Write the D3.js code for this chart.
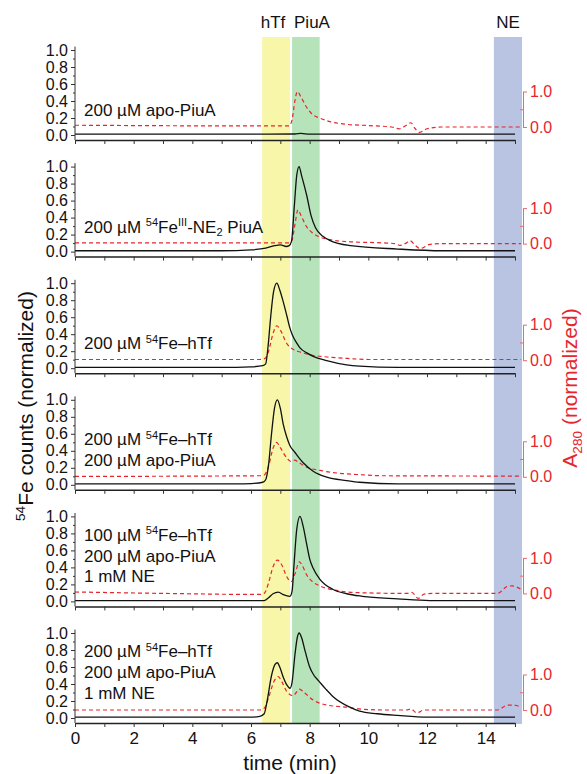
<!DOCTYPE html>
<html><head><meta charset="utf-8">
<script src="https://cdn.jsdelivr.net/npm/d3@7"></script>
<style>
body{margin:0;background:#fff}
text{font-family:Arial,"Liberation Sans",sans-serif}
</style></head>
<body><svg id="c" width="587" height="774"></svg>
<script>
// ---------------- DATA ----------------
const xTicks = [0,1,2,3,4,5,6,7,8,9,10,11,12,13,14,15];
const leftTicks = [0,0.2,0.4,0.6,0.8,1.0];
const rightTicks = [0,1.0];
const bandNames = ["hTf","PiuA","NE"];
const bandStart = [6.38,7.40,14.28];
const bandEnd   = [7.33,8.34,15.24];
const bandColors = ["#f8f6a8","#b6e3ba","#b8c4e2"];

// panel labels: {..} superscript, [..] subscript
const panelLabels = [
  ["200 µM apo-PiuA"],
  ["200 µM {54}Fe{III}-NE[2] PiuA"],
  ["200 µM {54}Fe–hTf"],
  ["200 µM {54}Fe–hTf","200 µM apo-PiuA"],
  ["100 µM {54}Fe–hTf","200 µM apo-PiuA","1 mM NE"],
  ["200 µM {54}Fe–hTf","200 µM apo-PiuA","1 mM NE"]
];

// 54Fe counts (black) [time, value]
const fe1 = [[0,0.01],[6,0.01],[7.5,0.012],[7.7,0.018],[8,0.01],[15,0.01]];
const fe2 = [[0,0.01],[5,0.01],[6,0.02],[6.5,0.04],[6.8,0.07],[7.0,0.08],[7.2,0.06],[7.3,0.07],[7.38,0.12],[7.48,0.55],[7.56,0.9],[7.64,1.0],[7.72,0.9],[7.9,0.66],[8.05,0.42],[8.2,0.28],[8.45,0.18],[8.7,0.13],[9.4,0.07],[11,0.03],[12.5,0.01],[15,0.01]];
const fe3 = [[0,0.01],[5.5,0.01],[6,0.015],[6.4,0.03],[6.5,0.05],[6.58,0.25],[6.67,0.6],[6.77,0.9],[6.88,1.0],[6.98,0.92],[7.1,0.78],[7.22,0.62],[7.32,0.48],[7.41,0.39],[7.55,0.3],[7.67,0.24],[7.9,0.18],[8.12,0.14],[8.58,0.09],[9.26,0.04],[9.7,0.025],[11,0.01],[15,0.01]];
const fe4 = [[0,0.01],[5.5,0.01],[6.02,0.015],[6.4,0.03],[6.5,0.06],[6.6,0.24],[6.7,0.6],[6.8,0.9],[6.9,1.0],[7.0,0.9],[7.1,0.71],[7.22,0.56],[7.33,0.46],[7.5,0.38],[7.65,0.31],[7.78,0.26],[8.12,0.16],[8.58,0.09],[9.26,0.05],[9.7,0.03],[11,0.01],[15,0.01]];
const fe5 = [[0,0.01],[6.45,0.01],[6.59,0.04],[6.75,0.09],[6.93,0.11],[7.1,0.08],[7.33,0.06],[7.4,0.12],[7.47,0.45],[7.56,0.85],[7.67,1.0],[7.78,0.88],[7.9,0.67],[8.0,0.5],[8.12,0.39],[8.35,0.26],[8.8,0.14],[9.26,0.09],[9.8,0.06],[11,0.03],[12.1,0.01],[15,0.01]];
const fe6 = [[0,0.01],[6.0,0.01],[6.3,0.02],[6.45,0.05],[6.55,0.2],[6.7,0.5],[6.82,0.63],[6.9,0.65],[6.98,0.6],[7.1,0.48],[7.22,0.39],[7.33,0.35],[7.4,0.42],[7.5,0.75],[7.58,0.95],[7.64,1.0],[7.72,0.95],[7.85,0.78],[8.0,0.6],[8.15,0.5],[8.3,0.44],[8.55,0.34],[8.8,0.25],[9.35,0.13],[9.7,0.08],[10.3,0.05],[11,0.03],[12,0.01],[15,0.01]];

// A280 (red dashed) [time, value]
const a1 = [[0,0.05],[6,0.03],[7.3,0.03],[7.4,0.2],[7.5,0.75],[7.58,1.0],[7.7,0.85],[7.9,0.55],[8.1,0.35],[8.35,0.25],[8.7,0.15],[9.2,0.08],[10,0.04],[10.8,0.0],[11.05,-0.05],[11.3,0.05],[11.45,0.12],[11.6,-0.05],[11.75,-0.15],[12,-0.05],[12.5,0.0],[15.2,0.0]];
const a2 = [[0,0.02],[7.3,0.02],[7.4,0.1],[7.5,0.55],[7.6,0.95],[7.7,0.8],[7.9,0.47],[8.1,0.3],[8.25,0.22],[8.7,0.11],[9.4,0.05],[10.5,0.02],[10.9,0.0],[11.08,-0.05],[11.3,0.02],[11.42,0.08],[11.6,-0.05],[11.76,-0.14],[12.1,-0.02],[12.5,0.0],[15.2,0.0]];
const a3 = [[0,0.02],[6.3,0.02],[6.48,0.05],[6.6,0.25],[6.75,0.75],[6.88,0.97],[7.0,0.85],[7.22,0.47],[7.45,0.3],[7.67,0.23],[8.1,0.14],[8.6,0.09],[9.3,0.05],[10,0.02],[15.2,0.02]];
const a4 = [[0,0.01],[6.3,0.03],[6.45,0.05],[6.6,0.3],[6.75,0.8],[6.87,0.97],[7.0,0.82],[7.22,0.53],[7.37,0.43],[7.5,0.47],[7.6,0.42],[7.9,0.27],[8.35,0.18],[9.0,0.1],[9.7,0.06],[10.5,0.03],[15.2,0.02]];
const a5 = [[0,0.04],[3,0.0],[6.3,-0.03],[6.45,0.0],[6.6,0.3],[6.75,0.75],[6.9,0.94],[7.05,0.8],[7.22,0.47],[7.37,0.33],[7.5,0.55],[7.65,0.89],[7.75,0.78],[7.9,0.52],[8.1,0.33],[8.35,0.21],[8.8,0.1],[9.7,0.02],[11.3,0.0],[11.48,0.03],[11.7,-0.14],[11.9,-0.02],[12.3,0.0],[14.4,0.0],[14.75,0.2],[14.9,0.21],[15.2,0.12]];
const a6 = [[0,0.0],[6.3,0.0],[6.45,0.05],[6.6,0.35],[6.78,0.8],[6.93,0.94],[7.05,0.8],[7.22,0.52],[7.44,0.4],[7.55,0.5],[7.65,0.59],[7.8,0.5],[8.12,0.28],[8.58,0.14],[9.26,0.08],[9.7,0.03],[10.5,0.0],[11.3,0.0],[11.45,0.03],[11.65,-0.08],[11.9,0.0],[14.4,0.0],[14.75,0.14],[14.95,0.14],[15.2,0.08]];

const feSeries = [fe1,fe2,fe3,fe4,fe5,fe6];
const aSeries  = [a1,a2,a3,a4,a5,a6];

// ---------------- DRAW ----------------
const svg = d3.select("#c");
const RED = "#e6262d";
const x = d3.scaleLinear().domain([0,15]).range([75,515]);
const panelY = d3.scaleLinear().domain([0,5]).range([140,723]); // axis baseline of each panel

// bands
const bandTop = 37, bandBottom = 724;
bandNames.forEach((n,i)=>{
  svg.append("rect").attr("x",x(bandStart[i])).attr("y",bandTop)
    .attr("width",x(bandEnd[i])-x(bandStart[i])).attr("height",bandBottom-bandTop)
    .attr("fill",bandColors[i]);
});
const bandLabelX = [273,312,508];
bandNames.forEach((n,i)=>{
  svg.append("text").attr("x",bandLabelX[i]).attr("y",28).attr("text-anchor","middle")
    .attr("font-size",17).attr("fill","#111").text(n);
});

function richText(sel, str, size){
  const re = /\{([^}]*)\}|\[([^\]]*)\]|([^{\[]+)/g;
  let m, shift = 0;
  while((m = re.exec(str))){
    if(m[1]!==undefined){
      sel.append("tspan").attr("font-size",size*0.65).attr("dy",-size*0.38-shift).text(m[1]);
      shift = -size*0.38;
    } else if(m[2]!==undefined){
      sel.append("tspan").attr("font-size",size*0.65).attr("dy",size*0.22-shift).text(m[2]);
      shift = size*0.22;
    } else {
      sel.append("tspan").attr("dy",-shift).text(m[3]);
      shift = 0;
    }
  }
}

const line = d3.line().curve(d3.curveMonotoneX);

for(let i=0;i<6;i++){
  const A = panelY(i);
  const yL = d3.scaleLinear().domain([0,1]).range([A-5,A-90]);
  const yR = d3.scaleLinear().domain([0,1]).range([A-13,A-48.5]);
  const g = svg.append("g");

  // red dashed A280
  g.append("path").attr("d", line.x(d=>x(d[0])).y(d=>yR(d[1]))(aSeries[i]))
    .attr("fill","none").attr("stroke",RED).attr("stroke-width",1.2).attr("stroke-dasharray","4,3");
  // black 54Fe
  g.append("path").attr("d", line.x(d=>x(d[0])).y(d=>yL(d[1]))(feSeries[i]))
    .attr("fill","none").attr("stroke","#111").attr("stroke-width",1.3);

  // left axis
  const la = g.append("g").attr("transform","translate(75,0)")
    .call(d3.axisLeft(yL).tickValues(leftTicks).tickFormat(d3.format(".1f")).tickSize(4).tickPadding(3));
  la.select(".domain").remove();
  la.selectAll("text").attr("font-size",16).attr("fill","#111").attr("font-family","Arial,'Liberation Sans',sans-serif");
  la.selectAll("line").attr("stroke","#333");
  const lm = g.append("g").attr("transform","translate(75,0)")
    .call(d3.axisLeft(yL).tickValues([0.1,0.3,0.5,0.7,0.9]).tickFormat("").tickSize(2));
  lm.select(".domain").remove();
  lm.selectAll("line").attr("stroke","#333");
  g.append("line").attr("x1",75).attr("x2",75).attr("y1",yL(1.04)).attr("y2",A)
    .attr("stroke","#333").attr("stroke-width",1);

  // bottom axis
  const ba = g.append("g").attr("transform",`translate(0,${A})`)
    .call(d3.axisBottom(x).tickValues(xTicks).tickSize(4).tickSizeOuter(0).tickPadding(5)
      .tickFormat(d => (i===5 && d%2===0 && d<15) ? d : ""));
  ba.select(".domain").attr("stroke","#222").attr("stroke-width",1.5);
  ba.selectAll("line").attr("stroke","#333");
  ba.selectAll("text").attr("font-size",17).attr("fill","#111").attr("font-family","Arial,'Liberation Sans',sans-serif");

  // right axis
  const ra = g.append("g").attr("transform","translate(523,0)")
    .call(d3.axisRight(yR).tickValues(rightTicks).tickFormat(d3.format(".1f")).tickSize(4).tickSizeOuter(0).tickPadding(3));
  ra.select(".domain").attr("stroke","#e86a70");
  ra.selectAll("line").attr("stroke","#e86a70");
  ra.selectAll("text").attr("font-size",16).attr("fill",RED).attr("font-family","Arial,'Liberation Sans',sans-serif");
  const rm = g.append("g").attr("transform","translate(523,0)")
    .call(d3.axisLeft(yR).tickValues([0.5]).tickFormat("").tickSize(3));
  rm.select(".domain").remove();
  rm.selectAll("line").attr("stroke","#e86a70");

  // panel label
  const lines = panelLabels[i];
  lines.forEach((s,k)=>{
    const t = g.append("text").attr("x",84).attr("y",A-24-(lines.length-1-k)*20.8)
      .attr("font-size",17).attr("fill","#111");
    richText(t,s,17);
  });
}

// axis titles
svg.append("text").attr("x",290).attr("y",770).attr("text-anchor","middle")
  .attr("font-size",21).attr("fill","#111").text("time (min)");

const lt = svg.append("text").attr("transform","translate(33,406) rotate(-90)")
  .attr("text-anchor","middle").attr("font-size",21).attr("fill","#111");
richText(lt,"{54}Fe counts (normalized)",21);

const rt = svg.append("text").attr("transform","translate(577,388) rotate(-90)")
  .attr("text-anchor","middle").attr("font-size",21).attr("fill",RED);
richText(rt,"A[280] (normalized)",21);
</script></body></html>
